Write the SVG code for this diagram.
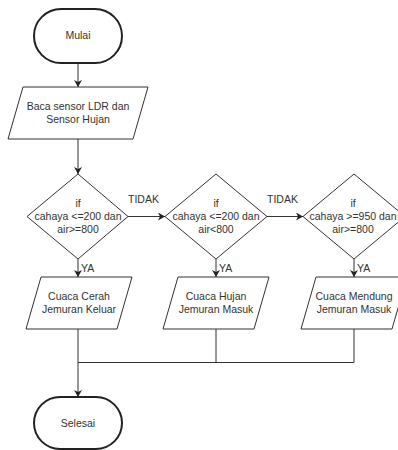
<svg xmlns="http://www.w3.org/2000/svg" width="398" height="450" viewBox="0 0 398 450">
<defs>
<marker id="arr" markerWidth="8" markerHeight="8" refX="7" refY="4" orient="auto" markerUnits="userSpaceOnUse">
<path d="M0,0 L7,4 L0,8 L2,4 Z" fill="#222"/>
</marker>
<style>
text{font-family:"Liberation Sans",Arial,sans-serif;font-size:10.5px;fill:#333;text-anchor:middle}
.term{fill:#fff;stroke:#222;stroke-width:2}
.shape{fill:#fff;stroke:#333;stroke-width:1}
.edge{fill:none;stroke:#333;stroke-width:1}
.lbl{text-anchor:start}
</style>
</defs>
<rect width="398" height="450" fill="#fff"/>
<g id="connectors">
<line class="edge" x1="78" y1="63" x2="78" y2="87" marker-end="url(#arr)"/>
<line class="edge" x1="78" y1="139" x2="78" y2="174" marker-end="url(#arr)"/>
<line class="edge" x1="128" y1="216.5" x2="165" y2="216.5" marker-end="url(#arr)"/>
<line class="edge" x1="267" y1="216.5" x2="303" y2="216.5" marker-end="url(#arr)"/>
<line class="edge" x1="78" y1="259" x2="78" y2="277" marker-end="url(#arr)"/>
<line class="edge" x1="216" y1="259" x2="216" y2="277" marker-end="url(#arr)"/>
<line class="edge" x1="354" y1="259" x2="354" y2="277" marker-end="url(#arr)"/>
<line class="edge" x1="78" y1="329" x2="78" y2="397" marker-end="url(#arr)"/>
<polyline class="edge" points="216,329 216,362.5 78,362.5"/>
<polyline class="edge" points="354,329 354,362.5 216,362.5"/>
<text class="lbl" x="128" y="203">TIDAK</text>
<text class="lbl" x="267" y="203">TIDAK</text>
<text class="lbl" x="81" y="272">YA</text>
<text class="lbl" x="219" y="272">YA</text>
<text class="lbl" x="357" y="272">YA</text>
</g>
<g id="mulai">
<rect class="term" x="34" y="9" width="88" height="54" rx="27" ry="27"/>
<text x="78" y="39">Mulai</text>
</g>
<g id="baca">
<polygon class="shape" points="23,87 148,87 133,139 8,139"/>
<text x="78" y="110">Baca sensor LDR dan</text>
<text x="78" y="123">Sensor Hujan</text>
</g>
<g id="if1">
<polygon class="shape" points="78,174 128,216.5 78,259 27,216.5"/>
<text x="78" y="207">if</text>
<text x="78" y="220">cahaya &lt;=200 dan</text>
<text x="78" y="233">air&gt;=800</text>
</g>
<g id="if2">
<polygon class="shape" points="216,174 267,216.5 216,259 165,216.5"/>
<text x="216" y="207">if</text>
<text x="216" y="220">cahaya &lt;=200 dan</text>
<text x="216" y="233">air&lt;800</text>
</g>
<g id="if3">
<polygon class="shape" points="354,174 405,216.5 354,259 303,216.5"/>
<text x="353" y="207">if</text>
<text x="353" y="220">cahaya &gt;=950 dan</text>
<text x="353" y="233">air&gt;=800</text>
</g>
<g id="cerah">
<polygon class="shape" points="41,277 132,277 117,329 26,329"/>
<text x="79" y="300">Cuaca Cerah</text>
<text x="79" y="313">Jemuran Keluar</text>
</g>
<g id="hujan">
<polygon class="shape" points="178,277 269,277 254,329 163,329"/>
<text x="216" y="300">Cuaca Hujan</text>
<text x="216" y="313">Jemuran Masuk</text>
</g>
<g id="mendung">
<polygon class="shape" points="316,277 407,277 392,329 301,329"/>
<text x="354" y="300">Cuaca Mendung</text>
<text x="354" y="313">Jemuran Masuk</text>
</g>
<g id="selesai">
<rect class="term" x="34" y="397" width="88" height="52" rx="26" ry="26"/>
<text x="78" y="427">Selesai</text>
</g>
</svg>
